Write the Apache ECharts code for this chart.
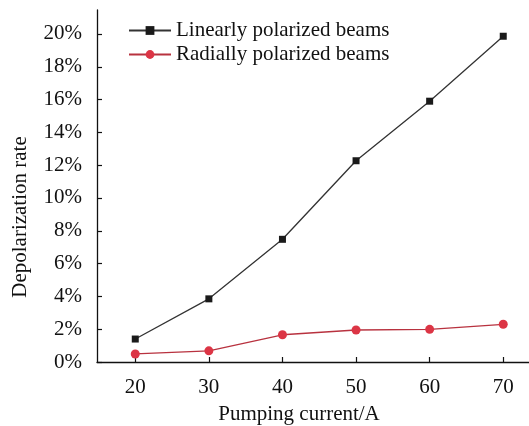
<!DOCTYPE html>
<html>
<head>
<meta charset="utf-8">
<script src="https://cdn.jsdelivr.net/npm/echarts@6/dist/echarts.min.js"></script>
<style>
  html, body { margin: 0; padding: 0; background: #fff; }
  #chart { width: 529px; height: 426px; }
</style>
</head>
<body>
<div id="chart"></div>
<script>
// pumping current (A)
const currents = [20, 30, 40, 50, 60, 70]
// depolarization rate (%)
const linearRate = [1.40, 3.85, 7.48, 12.27, 15.9, 19.86]
const radialRate = [0.49, 0.68, 1.66, 1.95, 1.99, 2.30]
const seriesNames = ['Linearly polarized beams', 'Radially polarized beams']
const xTicks = [20, 30, 40, 50, 60, 70]
const yTicks = [0, 2, 4, 6, 8, 10, 12, 14, 16, 18, 20]

const font = 'Liberation Serif'
const chart = echarts.init(document.getElementById('chart'))

chart.setOption({
  backgroundColor: '#fff',
  animation: false,
  textStyle: { fontFamily: font, color: '#000' },
  legend: {
    orient: 'vertical',
    left: 123,
    top: 15,
    itemWidth: 42,
    itemHeight: 11,
    itemGap: 3,
    textStyle: { fontFamily: font, fontSize: 21, color: '#111' },
    data: seriesNames
  },
  grid: { left: 97, top: 10, right: 0, bottom: 64, outerBoundsMode: 'none' },
  xAxis: {
    type: 'value',
    min: 14.8,
    max: 73.5,
    name: 'Pumping current/A',
    nameLocation: 'middle',
    nameGap: 42,
    nameTextStyle: { fontFamily: font, fontSize: 21, color: '#111', padding: [0, 28, 0, 0] },
    splitLine: { show: false },
    axisLine: { lineStyle: { color: '#111', width: 1.3 } },
    axisTick: { inside: true, length: 5, customValues: xTicks, lineStyle: { color: '#111', width: 1.2 } },
    axisLabel: { customValues: xTicks, margin: 15, fontFamily: font, fontSize: 21, color: '#111' }
  },
  yAxis: {
    type: 'value',
    min: 0,
    max: 21.46,
    name: 'Depolarization rate',
    nameLocation: 'middle',
    nameRotate: 90,
    nameGap: 66,
    nameTextStyle: { fontFamily: font, fontSize: 21, color: '#111', padding: [0, 62, 0, 0] },
    splitLine: { show: false },
    axisLine: { show: true, lineStyle: { color: '#111', width: 1.3 } },
    axisTick: { show: true, inside: true, length: 5, customValues: yTicks, lineStyle: { color: '#111', width: 1.2 } },
    axisLabel: { customValues: yTicks, margin: 15, fontFamily: font, fontSize: 21, color: '#111', formatter: v => v + '%' }
  },
  series: [
    {
      name: seriesNames[0],
      type: 'line',
      data: currents.map((c, i) => [c, linearRate[i]]),
      symbol: 'rect',
      symbolSize: 7,
      lineStyle: { color: '#333', width: 1.3 },
      itemStyle: { color: '#1a1a1a' }
    },
    {
      name: seriesNames[1],
      type: 'line',
      data: currents.map((c, i) => [c, radialRate[i]]),
      symbol: 'circle',
      symbolSize: 9,
      lineStyle: { color: '#b8323f', width: 1.3 },
      itemStyle: { color: '#dc3545' }
    }
  ]
})
</script>
</body>
</html>
